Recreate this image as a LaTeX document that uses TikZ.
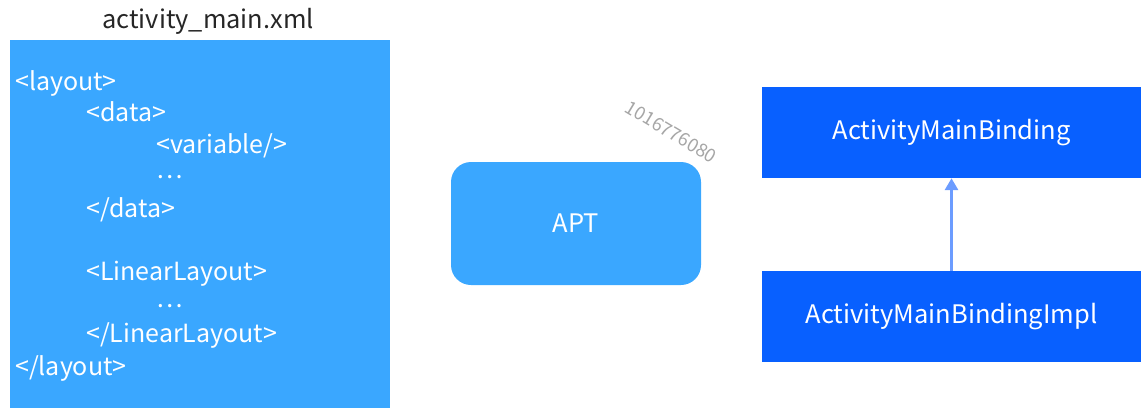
\documentclass[tikz,border=0pt]{standalone}
\usepackage{fontspec}
\setmainfont{Noto Sans CJK SC}
\usetikzlibrary{arrows.meta}
\definecolor{xmlblue}{RGB}{58,167,255}
\definecolor{bindblue}{RGB}{8,96,255}
\definecolor{arrowblue}{RGB}{108,156,255}
\begin{document}
\begin{tikzpicture}[x=1pt,y=-1pt,line cap=round,line join=round,
  code/.style={anchor=base west,text=white,inner sep=0,font=\fontsize{25}{30}\selectfont},
  classbox/.style={fill=bindblue,text=white,inner sep=0,minimum width=379pt,minimum height=91pt,font=\fontsize{25.5}{30}\selectfont}]
\useasboundingbox (0,0) rectangle (1144,413);
%% Tệp xml
\node[anchor=base,text=black!85,font=\fontsize{25.4}{30}\selectfont] (title) at (208,28) {activity\_main.xml};
\node[fill=xmlblue,inner sep=0,minimum width=380pt,minimum height=368pt] (xml) at (200,224) {};
\node[code] (l1) at (15,90) {<layout>};
\node[code] (l2) at (86,121) {<data>};
\node[code] (l3) at (156,153) {<variable/>};
\node[code] (l4) at (156,178) {…};
\node[code] (l5) at (86,217) {</data>};
\node[code] (l6) at (86,280) {<LinearLayout>};
\node[code] (l7) at (156,307) {…};
\node[code] (l8) at (86,342) {</LinearLayout>};
\node[code] (l9) at (15,375) {</layout>};
%% APT
\node[fill=xmlblue,rounded corners=20pt,inner sep=0,minimum width=250pt,minimum height=123pt,text=white,font=\fontsize{25.5}{30}\selectfont] (apt) at (576,223.5) {APT};
\node[text=gray!70,rotate=-31,font=\fontsize{18.5}{20}\selectfont] (mark) at (671,132) {1016776080};
%% Lớp binding
\node[classbox] (binding) at (951.5,132.5) {ActivityMainBinding};
\node[classbox] (impl) at (951.5,316.5) {ActivityMainBindingImpl};
\draw[arrowblue,line width=3.5pt,line cap=butt,-{Triangle[width=13pt,length=12pt]}] (impl) -- (binding);
\end{tikzpicture}
\end{document}
